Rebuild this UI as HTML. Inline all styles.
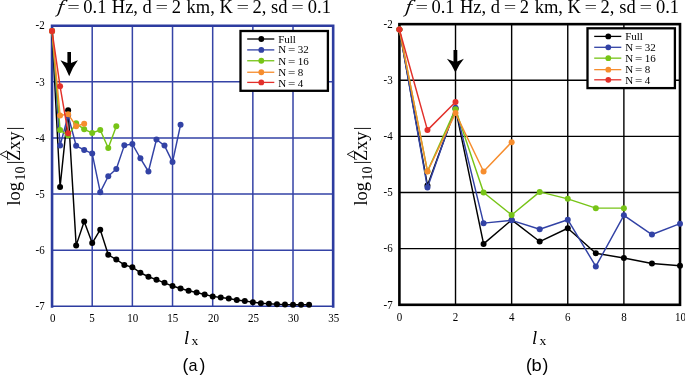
<!DOCTYPE html>
<html><head><meta charset="utf-8"><title>figure</title><style>
html,body{margin:0;padding:0;background:#fff;overflow:hidden;}
svg{display:block;}
text{font-family:"Liberation Serif",serif;fill:#000;}
.tk{font-size:11px;}
.lg{font-size:11px;}
.ti{font-size:18.5px;}
.yl{font-size:18.5px;}
.xl{font-size:18.5px;}
.pl{font-family:"Liberation Sans",sans-serif;font-size:16.2px;}
</style></head><body>
<svg width="685" height="375" viewBox="0 0 685 375">
<rect width="685" height="375" fill="#fff"/>
<path d="M92.21,25.75V306.25M132.37,25.75V306.25M172.53,25.75V306.25M212.69,25.75V306.25M252.85,25.75V306.25M293.01,25.75V306.25M52.05,81.85H333.17M52.05,137.95H333.17M52.05,194.05H333.17M52.05,250.15H333.17" stroke="#3543a6" stroke-width="1.5" fill="none"/>
<path d="M52.05,306.25H333.17" stroke="#2d3ca0" stroke-width="1.6" fill="none"/><path d="M52.05,307.65V25.75M50.75,25.75H334.47M333.17,25.75V307.65" stroke="#2d3ca0" stroke-width="2.6" fill="none"/>
<text transform="translate(44.70,29.45) scale(1,1.09)" class="tk" text-anchor="end">-2</text><text transform="translate(44.70,85.55) scale(1,1.09)" class="tk" text-anchor="end">-3</text><text transform="translate(44.70,141.65) scale(1,1.09)" class="tk" text-anchor="end">-4</text><text transform="translate(44.70,197.75) scale(1,1.09)" class="tk" text-anchor="end">-5</text><text transform="translate(44.70,253.85) scale(1,1.09)" class="tk" text-anchor="end">-6</text><text transform="translate(44.70,309.95) scale(1,1.09)" class="tk" text-anchor="end">-7</text>
<text transform="translate(52.75,322.0) scale(1,1.09)" class="tk" text-anchor="middle">0</text><text transform="translate(91.91,322.0) scale(1,1.09)" class="tk" text-anchor="middle">5</text><text transform="translate(132.67,322.0) scale(1,1.09)" class="tk" text-anchor="middle">10</text><text transform="translate(172.73,322.0) scale(1,1.09)" class="tk" text-anchor="middle">15</text><text transform="translate(213.39,322.0) scale(1,1.09)" class="tk" text-anchor="middle">20</text><text transform="translate(253.45,322.0) scale(1,1.09)" class="tk" text-anchor="middle">25</text><text transform="translate(293.61,322.0) scale(1,1.09)" class="tk" text-anchor="middle">30</text><text transform="translate(333.67,322.0) scale(1,1.09)" class="tk" text-anchor="middle">35</text>
<rect x="240.50" y="31.00" width="87.4" height="59.8" fill="#fff" stroke="#000" stroke-width="2.3"/>
<line x1="247.20" y1="39.00" x2="274.30" y2="39.00" stroke="#000000" stroke-width="1.3"/><circle cx="261.30" cy="39.00" r="2.9" fill="#000000"/><text x="278.20" y="43.10" class="lg">Full</text>
<line x1="247.20" y1="49.90" x2="274.30" y2="49.90" stroke="#3242a5" stroke-width="1.3"/><circle cx="261.30" cy="49.90" r="2.9" fill="#3242a5"/><text x="278.20" y="53.25" class="lg">N<tspan x="297.85">32</tspan></text><text transform="translate(291.70,53.25) scale(1.18,1)" class="lg" text-anchor="middle">=</text>
<line x1="247.20" y1="60.75" x2="274.30" y2="60.75" stroke="#77c417" stroke-width="1.3"/><circle cx="261.30" cy="60.75" r="2.9" fill="#77c417"/><text x="278.20" y="65.00" class="lg">N<tspan x="297.85">16</tspan></text><text transform="translate(291.70,65.00) scale(1.18,1)" class="lg" text-anchor="middle">=</text>
<line x1="247.20" y1="72.25" x2="274.30" y2="72.25" stroke="#f68d2e" stroke-width="1.3"/><circle cx="261.30" cy="72.25" r="2.9" fill="#f68d2e"/><text x="278.20" y="75.65" class="lg">N<tspan x="297.85">8</tspan></text><text transform="translate(291.70,75.65) scale(1.18,1)" class="lg" text-anchor="middle">=</text>
<line x1="247.20" y1="82.40" x2="274.30" y2="82.40" stroke="#e2302a" stroke-width="1.3"/><circle cx="261.30" cy="82.40" r="2.9" fill="#e2302a"/><text x="278.20" y="86.55" class="lg">N<tspan x="297.85">4</tspan></text><text transform="translate(291.70,86.55) scale(1.18,1)" class="lg" text-anchor="middle">=</text>
<path d="M67.40,52.00 H71.00 V63.00 L77.90,60.30 Q72.45,67.60 69.20,76.20 Q65.95,67.60 60.50,60.30 L67.40,63.00 Z" fill="#000"/>
<path d="M52.05,31.08 L60.08,186.93 L68.11,110.18 L76.15,245.38 L84.18,221.43 L92.21,243.03 L100.24,229.73 L108.27,254.75 L116.31,259.52 L124.34,264.96 L132.37,267.15 L140.40,272.76 L148.43,276.74 L156.47,279.66 L164.50,282.86 L172.53,286.05 L180.56,288.47 L188.59,290.82 L196.63,292.45 L204.66,294.53 L212.69,296.38 L220.72,297.44 L228.75,298.56 L236.79,299.97 L244.82,300.98 L252.85,302.15 L260.88,303.33 L268.91,303.67 L276.95,304.17 L284.98,304.62 L293.01,304.68 L301.04,304.68 L309.07,304.68" fill="none" stroke="#000000" stroke-width="1.45" stroke-linejoin="round"/>
<circle cx="52.05" cy="31.08" r="3.0" fill="#000000"/><circle cx="60.08" cy="186.93" r="3.0" fill="#000000"/><circle cx="68.11" cy="110.18" r="3.0" fill="#000000"/><circle cx="76.15" cy="245.38" r="3.0" fill="#000000"/><circle cx="84.18" cy="221.43" r="3.0" fill="#000000"/><circle cx="92.21" cy="243.03" r="3.0" fill="#000000"/><circle cx="100.24" cy="229.73" r="3.0" fill="#000000"/><circle cx="108.27" cy="254.75" r="3.0" fill="#000000"/><circle cx="116.31" cy="259.52" r="3.0" fill="#000000"/><circle cx="124.34" cy="264.96" r="3.0" fill="#000000"/><circle cx="132.37" cy="267.15" r="3.0" fill="#000000"/><circle cx="140.40" cy="272.76" r="3.0" fill="#000000"/><circle cx="148.43" cy="276.74" r="3.0" fill="#000000"/><circle cx="156.47" cy="279.66" r="3.0" fill="#000000"/><circle cx="164.50" cy="282.86" r="3.0" fill="#000000"/><circle cx="172.53" cy="286.05" r="3.0" fill="#000000"/><circle cx="180.56" cy="288.47" r="3.0" fill="#000000"/><circle cx="188.59" cy="290.82" r="3.0" fill="#000000"/><circle cx="196.63" cy="292.45" r="3.0" fill="#000000"/><circle cx="204.66" cy="294.53" r="3.0" fill="#000000"/><circle cx="212.69" cy="296.38" r="3.0" fill="#000000"/><circle cx="220.72" cy="297.44" r="3.0" fill="#000000"/><circle cx="228.75" cy="298.56" r="3.0" fill="#000000"/><circle cx="236.79" cy="299.97" r="3.0" fill="#000000"/><circle cx="244.82" cy="300.98" r="3.0" fill="#000000"/><circle cx="252.85" cy="302.15" r="3.0" fill="#000000"/><circle cx="260.88" cy="303.33" r="3.0" fill="#000000"/><circle cx="268.91" cy="303.67" r="3.0" fill="#000000"/><circle cx="276.95" cy="304.17" r="3.0" fill="#000000"/><circle cx="284.98" cy="304.62" r="3.0" fill="#000000"/><circle cx="293.01" cy="304.68" r="3.0" fill="#000000"/><circle cx="301.04" cy="304.68" r="3.0" fill="#000000"/><circle cx="309.07" cy="304.68" r="3.0" fill="#000000"/>
<path d="M52.05,31.08 L60.08,145.58 L68.11,115.51 L76.15,145.80 L84.18,149.90 L92.21,153.60 L100.24,192.14 L108.27,176.21 L116.31,168.92 L124.34,145.36 L132.37,144.06 L140.40,158.26 L148.43,171.50 L156.47,139.52 L164.50,145.58 L172.53,162.07 L180.56,124.77" fill="none" stroke="#3242a5" stroke-width="1.45" stroke-linejoin="round"/>
<circle cx="52.05" cy="31.08" r="3.0" fill="#3242a5"/><circle cx="60.08" cy="145.58" r="3.0" fill="#3242a5"/><circle cx="68.11" cy="115.51" r="3.0" fill="#3242a5"/><circle cx="76.15" cy="145.80" r="3.0" fill="#3242a5"/><circle cx="84.18" cy="149.90" r="3.0" fill="#3242a5"/><circle cx="92.21" cy="153.60" r="3.0" fill="#3242a5"/><circle cx="100.24" cy="192.14" r="3.0" fill="#3242a5"/><circle cx="108.27" cy="176.21" r="3.0" fill="#3242a5"/><circle cx="116.31" cy="168.92" r="3.0" fill="#3242a5"/><circle cx="124.34" cy="145.36" r="3.0" fill="#3242a5"/><circle cx="132.37" cy="144.06" r="3.0" fill="#3242a5"/><circle cx="140.40" cy="158.26" r="3.0" fill="#3242a5"/><circle cx="148.43" cy="171.50" r="3.0" fill="#3242a5"/><circle cx="156.47" cy="139.52" r="3.0" fill="#3242a5"/><circle cx="164.50" cy="145.58" r="3.0" fill="#3242a5"/><circle cx="172.53" cy="162.07" r="3.0" fill="#3242a5"/><circle cx="180.56" cy="124.77" r="3.0" fill="#3242a5"/>
<path d="M52.05,31.08 L60.08,129.98 L68.11,135.59 L76.15,123.36 L84.18,129.37 L92.21,132.90 L100.24,129.98 L108.27,148.05 L116.31,126.17" fill="none" stroke="#77c417" stroke-width="1.45" stroke-linejoin="round"/>
<circle cx="52.05" cy="31.08" r="3.0" fill="#77c417"/><circle cx="60.08" cy="129.98" r="3.0" fill="#77c417"/><circle cx="68.11" cy="135.59" r="3.0" fill="#77c417"/><circle cx="76.15" cy="123.36" r="3.0" fill="#77c417"/><circle cx="84.18" cy="129.37" r="3.0" fill="#77c417"/><circle cx="92.21" cy="132.90" r="3.0" fill="#77c417"/><circle cx="100.24" cy="129.98" r="3.0" fill="#77c417"/><circle cx="108.27" cy="148.05" r="3.0" fill="#77c417"/><circle cx="116.31" cy="126.17" r="3.0" fill="#77c417"/>
<path d="M52.05,31.08 L60.08,115.40 L68.11,114.16 L76.15,126.17 L84.18,123.76" fill="none" stroke="#f68d2e" stroke-width="1.45" stroke-linejoin="round"/>
<circle cx="52.05" cy="31.08" r="3.0" fill="#f68d2e"/><circle cx="60.08" cy="115.40" r="3.0" fill="#f68d2e"/><circle cx="68.11" cy="114.16" r="3.0" fill="#f68d2e"/><circle cx="76.15" cy="126.17" r="3.0" fill="#f68d2e"/><circle cx="84.18" cy="123.76" r="3.0" fill="#f68d2e"/>
<path d="M52.05,31.08 L60.08,86.34 L68.11,133.18" fill="none" stroke="#e2302a" stroke-width="1.45" stroke-linejoin="round"/>
<circle cx="52.05" cy="31.08" r="3.0" fill="#e2302a"/><circle cx="60.08" cy="86.34" r="3.0" fill="#e2302a"/><circle cx="68.11" cy="133.18" r="3.0" fill="#e2302a"/>
<path d="M455.52,24.15V304.80M511.64,24.15V304.80M567.76,24.15V304.80M623.88,24.15V304.80M399.40,80.28H680.00M399.40,136.41H680.00M399.40,192.54H680.00M399.40,248.67H680.00" stroke="#000" stroke-width="1.4" fill="none"/>
<rect x="399.40" y="24.15" width="280.60" height="280.65" fill="none" stroke="#000" stroke-width="2.6"/>
<text transform="translate(392.70,27.85) scale(1,1.09)" class="tk" text-anchor="end">-2</text><text transform="translate(392.70,83.98) scale(1,1.09)" class="tk" text-anchor="end">-3</text><text transform="translate(392.70,140.11) scale(1,1.09)" class="tk" text-anchor="end">-4</text><text transform="translate(392.70,196.24) scale(1,1.09)" class="tk" text-anchor="end">-5</text><text transform="translate(392.70,252.37) scale(1,1.09)" class="tk" text-anchor="end">-6</text><text transform="translate(392.70,308.50) scale(1,1.09)" class="tk" text-anchor="end">-7</text>
<text transform="translate(399.40,321.1) scale(1,1.09)" class="tk" text-anchor="middle">0</text><text transform="translate(455.52,321.1) scale(1,1.09)" class="tk" text-anchor="middle">2</text><text transform="translate(511.64,321.1) scale(1,1.09)" class="tk" text-anchor="middle">4</text><text transform="translate(567.76,321.1) scale(1,1.09)" class="tk" text-anchor="middle">6</text><text transform="translate(623.88,321.1) scale(1,1.09)" class="tk" text-anchor="middle">8</text><text transform="translate(680.40,321.1) scale(1,1.09)" class="tk" text-anchor="middle">10</text>
<rect x="587.50" y="28.30" width="87.4" height="59.8" fill="#fff" stroke="#000" stroke-width="2.3"/>
<line x1="594.20" y1="36.40" x2="621.30" y2="36.40" stroke="#000000" stroke-width="1.3"/><circle cx="608.30" cy="36.40" r="2.9" fill="#000000"/><text x="625.20" y="40.40" class="lg">Full</text>
<line x1="594.20" y1="47.30" x2="621.30" y2="47.30" stroke="#3242a5" stroke-width="1.3"/><circle cx="608.30" cy="47.30" r="2.9" fill="#3242a5"/><text x="625.20" y="50.55" class="lg">N<tspan x="644.85">32</tspan></text><text transform="translate(638.70,50.55) scale(1.18,1)" class="lg" text-anchor="middle">=</text>
<line x1="594.20" y1="58.15" x2="621.30" y2="58.15" stroke="#77c417" stroke-width="1.3"/><circle cx="608.30" cy="58.15" r="2.9" fill="#77c417"/><text x="625.20" y="62.30" class="lg">N<tspan x="644.85">16</tspan></text><text transform="translate(638.70,62.30) scale(1.18,1)" class="lg" text-anchor="middle">=</text>
<line x1="594.20" y1="69.65" x2="621.30" y2="69.65" stroke="#f68d2e" stroke-width="1.3"/><circle cx="608.30" cy="69.65" r="2.9" fill="#f68d2e"/><text x="625.20" y="72.95" class="lg">N<tspan x="644.85">8</tspan></text><text transform="translate(638.70,72.95) scale(1.18,1)" class="lg" text-anchor="middle">=</text>
<line x1="594.20" y1="79.80" x2="621.30" y2="79.80" stroke="#e2302a" stroke-width="1.3"/><circle cx="608.30" cy="79.80" r="2.9" fill="#e2302a"/><text x="625.20" y="83.85" class="lg">N<tspan x="644.85">4</tspan></text><text transform="translate(638.70,83.85) scale(1.18,1)" class="lg" text-anchor="middle">=</text>
<path d="M453.50,50.10 H457.30 V61.60 L463.90,58.80 Q458.54,65.05 455.40,72.60 Q452.25,65.05 446.90,58.80 L453.50,61.60 Z" fill="#000"/>
<path d="M399.40,29.48 L427.46,185.41 L455.52,108.63 L483.58,243.90 L511.64,219.93 L539.70,241.54 L567.76,228.24 L595.82,253.27 L623.88,258.04 L651.94,263.49 L680.00,265.68" fill="none" stroke="#000000" stroke-width="1.45" stroke-linejoin="round"/>
<circle cx="399.40" cy="29.48" r="3.0" fill="#000000"/><circle cx="427.46" cy="185.41" r="3.0" fill="#000000"/><circle cx="455.52" cy="108.63" r="3.0" fill="#000000"/><circle cx="483.58" cy="243.90" r="3.0" fill="#000000"/><circle cx="511.64" cy="219.93" r="3.0" fill="#000000"/><circle cx="539.70" cy="241.54" r="3.0" fill="#000000"/><circle cx="567.76" cy="228.24" r="3.0" fill="#000000"/><circle cx="595.82" cy="253.27" r="3.0" fill="#000000"/><circle cx="623.88" cy="258.04" r="3.0" fill="#000000"/><circle cx="651.94" cy="263.49" r="3.0" fill="#000000"/><circle cx="680.00" cy="265.68" r="3.0" fill="#000000"/>
<path d="M399.40,29.48 L427.46,187.60 L455.52,107.78 L483.58,223.13 L511.64,220.32 L539.70,229.19 L567.76,219.71 L595.82,266.41 L623.88,215.33 L651.94,234.53 L680.00,223.69" fill="none" stroke="#3242a5" stroke-width="1.45" stroke-linejoin="round"/>
<circle cx="399.40" cy="29.48" r="3.0" fill="#3242a5"/><circle cx="427.46" cy="187.60" r="3.0" fill="#3242a5"/><circle cx="455.52" cy="107.78" r="3.0" fill="#3242a5"/><circle cx="483.58" cy="223.13" r="3.0" fill="#3242a5"/><circle cx="511.64" cy="220.32" r="3.0" fill="#3242a5"/><circle cx="539.70" cy="229.19" r="3.0" fill="#3242a5"/><circle cx="567.76" cy="219.71" r="3.0" fill="#3242a5"/><circle cx="595.82" cy="266.41" r="3.0" fill="#3242a5"/><circle cx="623.88" cy="215.33" r="3.0" fill="#3242a5"/><circle cx="651.94" cy="234.53" r="3.0" fill="#3242a5"/><circle cx="680.00" cy="223.69" r="3.0" fill="#3242a5"/>
<path d="M399.40,29.48 L427.46,171.21 L455.52,109.13 L483.58,192.54 L511.64,214.94 L539.70,191.92 L567.76,198.83 L595.82,208.14 L623.88,208.14" fill="none" stroke="#77c417" stroke-width="1.45" stroke-linejoin="round"/>
<circle cx="399.40" cy="29.48" r="3.0" fill="#77c417"/><circle cx="427.46" cy="171.21" r="3.0" fill="#77c417"/><circle cx="455.52" cy="109.13" r="3.0" fill="#77c417"/><circle cx="483.58" cy="192.54" r="3.0" fill="#77c417"/><circle cx="511.64" cy="214.94" r="3.0" fill="#77c417"/><circle cx="539.70" cy="191.92" r="3.0" fill="#77c417"/><circle cx="567.76" cy="198.83" r="3.0" fill="#77c417"/><circle cx="595.82" cy="208.14" r="3.0" fill="#77c417"/><circle cx="623.88" cy="208.14" r="3.0" fill="#77c417"/>
<path d="M399.40,29.48 L427.46,171.44 L455.52,113.12 L483.58,171.44 L511.64,142.14" fill="none" stroke="#f68d2e" stroke-width="1.45" stroke-linejoin="round"/>
<circle cx="399.40" cy="29.48" r="3.0" fill="#f68d2e"/><circle cx="427.46" cy="171.44" r="3.0" fill="#f68d2e"/><circle cx="455.52" cy="113.12" r="3.0" fill="#f68d2e"/><circle cx="483.58" cy="171.44" r="3.0" fill="#f68d2e"/><circle cx="511.64" cy="142.14" r="3.0" fill="#f68d2e"/>
<path d="M399.40,29.48 L427.46,130.12 L455.52,102.11" fill="none" stroke="#e2302a" stroke-width="1.45" stroke-linejoin="round"/>
<circle cx="399.40" cy="29.48" r="3.0" fill="#e2302a"/><circle cx="427.46" cy="130.12" r="3.0" fill="#e2302a"/><circle cx="455.52" cy="102.11" r="3.0" fill="#e2302a"/>
<text y="12.9" class="ti"><tspan x="83.30">0.1</tspan><tspan x="111.80">Hz,</tspan><tspan x="142.60">d</tspan><tspan x="171.70">2</tspan><tspan x="186.60">km,</tspan><tspan x="219.50">K</tspan><tspan x="252.50">2,</tspan><tspan x="271.10">sd</tspan><tspan x="307.80">0.1</tspan></text>
<text transform="translate(56.70,12.9) skewX(-8)" style="font-family:&quot;DejaVu Serif&quot;,serif;font-size:17.5px;font-style:italic">f</text><text transform="translate(67.29,11.87) scale(1.2,0.81)" class="ti">=</text><text transform="translate(155.59,11.87) scale(1.2,0.81)" class="ti">=</text><text transform="translate(236.49,11.87) scale(1.2,0.81)" class="ti">=</text><text transform="translate(291.29,11.87) scale(1.2,0.81)" class="ti">=</text>
<text y="12.9" class="ti"><tspan x="431.40">0.1</tspan><tspan x="459.90">Hz,</tspan><tspan x="490.70">d</tspan><tspan x="519.80">2</tspan><tspan x="534.70">km,</tspan><tspan x="567.60">K</tspan><tspan x="600.60">2,</tspan><tspan x="619.20">sd</tspan><tspan x="655.90">0.1</tspan></text>
<text transform="translate(404.80,12.9) skewX(-8)" style="font-family:&quot;DejaVu Serif&quot;,serif;font-size:17.5px;font-style:italic">f</text><text transform="translate(415.39,11.87) scale(1.2,0.81)" class="ti">=</text><text transform="translate(503.69,11.87) scale(1.2,0.81)" class="ti">=</text><text transform="translate(584.59,11.87) scale(1.2,0.81)" class="ti">=</text><text transform="translate(639.39,11.87) scale(1.2,0.81)" class="ti">=</text>
<text transform="translate(19.90,205.60) rotate(-90)" class="yl"><tspan x="0">log</tspan><tspan x="25.2" dy="4.8" font-size="14">10</tspan><tspan x="41.3" dy="-4.8">|</tspan><tspan x="44.7">Z</tspan><tspan x="55.5">x</tspan><tspan x="64.9">y</tspan><tspan x="75.3">|</tspan></text>
<text transform="translate(19.90,205.60) rotate(-90) scale(1,0.772)" x="47.15" y="-13.4" class="yl" style="font-size:18.1px">^</text>
<text transform="translate(366.90,205.60) rotate(-90)" class="yl"><tspan x="0">log</tspan><tspan x="25.2" dy="4.8" font-size="14">10</tspan><tspan x="41.3" dy="-4.8">|</tspan><tspan x="44.7">Z</tspan><tspan x="55.5">x</tspan><tspan x="64.9">y</tspan><tspan x="75.3">|</tspan></text>
<text transform="translate(366.90,205.60) rotate(-90) scale(1,0.772)" x="47.15" y="-13.4" class="yl" style="font-size:18.1px">^</text>
<text class="xl"><tspan x="184.00" y="344.1" font-style="italic">l</tspan><tspan x="191.60" y="345.1" font-size="13.5">x</tspan></text>
<text class="xl"><tspan x="532.00" y="344.1" font-style="italic">l</tspan><tspan x="539.60" y="345.1" font-size="13.5">x</tspan></text>
<text y="370.5" class="pl"><tspan x="182.60" font-size="17.5">(</tspan><tspan x="199.60" font-size="17.5">)</tspan></text><text transform="translate(188.50,370.5) scale(1.0,1)" class="pl">a</text>
<text y="370.5" class="pl"><tspan x="525.90" font-size="17.5">(</tspan><tspan x="542.50" font-size="17.5">)</tspan></text><text transform="translate(531.60,370.5) scale(1.13,1)" class="pl">b</text>
</svg>
</body></html>
